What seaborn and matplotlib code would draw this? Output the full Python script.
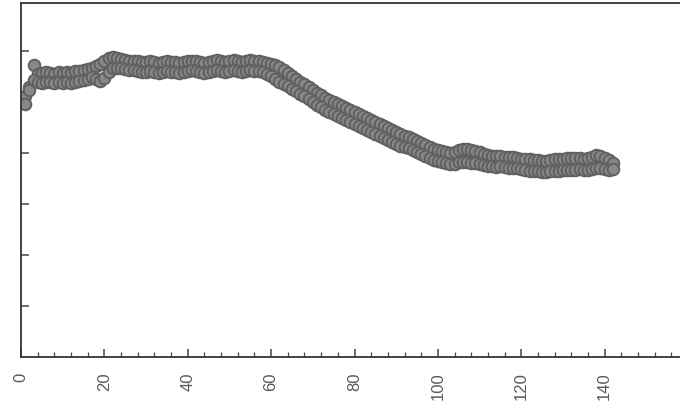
import numpy as np
import pandas as pd
import seaborn as sns
import matplotlib.pyplot as plt

# index (x) and the upper / lower edges of the dotted band
x_vals = list(range(1, 143))

y_upper = [
    5.12, 5.30, 5.73, 5.55, 5.56, 5.58, 5.57, 5.55, 5.58, 5.57,
    5.59, 5.57, 5.60, 5.61, 5.63, 5.64, 5.67, 5.70, 5.74, 5.80,
    5.86, 5.88, 5.86, 5.84, 5.82, 5.80, 5.81, 5.80, 5.78, 5.79,
    5.80, 5.78, 5.76, 5.78, 5.80, 5.78, 5.79, 5.77, 5.78, 5.80,
    5.81, 5.80, 5.78, 5.76, 5.78, 5.80, 5.82, 5.80, 5.78, 5.80,
    5.82, 5.80, 5.78, 5.80, 5.82, 5.80, 5.80, 5.78, 5.76, 5.74,
    5.72, 5.68, 5.62, 5.56, 5.50, 5.46, 5.40, 5.36, 5.30, 5.24,
    5.18, 5.14, 5.08, 5.04, 5.00, 4.96, 4.92, 4.88, 4.85, 4.81,
    4.77, 4.73, 4.69, 4.65, 4.61, 4.57, 4.53, 4.49, 4.45, 4.41,
    4.37, 4.33, 4.31, 4.27, 4.23, 4.19, 4.15, 4.11, 4.07, 4.05,
    4.03, 4.01, 4.00, 4.02, 4.06, 4.08, 4.08, 4.06, 4.03, 4.01,
    3.99, 3.97, 3.95, 3.95, 3.94, 3.93, 3.93, 3.92, 3.91, 3.89,
    3.88, 3.88, 3.87, 3.86, 3.85, 3.85, 3.87, 3.88, 3.88, 3.89,
    3.90, 3.90, 3.91, 3.90, 3.89, 3.91, 3.93, 3.96, 3.94, 3.90,
    3.86, 3.80,
]

y_lower = [
    4.96, 5.24, 5.43, 5.40, 5.38, 5.39, 5.40, 5.37, 5.40, 5.38,
    5.39, 5.37, 5.40, 5.41, 5.43, 5.45, 5.49, 5.45, 5.42, 5.47,
    5.58, 5.66, 5.66, 5.66, 5.64, 5.62, 5.62, 5.61, 5.59, 5.58,
    5.60, 5.59, 5.57, 5.58, 5.60, 5.59, 5.58, 5.56, 5.58, 5.60,
    5.62, 5.60, 5.59, 5.57, 5.58, 5.60, 5.62, 5.61, 5.59, 5.60,
    5.62, 5.60, 5.58, 5.60, 5.62, 5.61, 5.60, 5.58, 5.55, 5.50,
    5.45, 5.40, 5.36, 5.32, 5.26, 5.22, 5.15, 5.12, 5.06, 5.00,
    4.94, 4.90, 4.84, 4.80, 4.76, 4.72, 4.68, 4.64, 4.61, 4.57,
    4.53, 4.49, 4.45, 4.41, 4.37, 4.33, 4.29, 4.25, 4.21, 4.18,
    4.14, 4.11, 4.09, 4.06, 4.02, 3.98, 3.94, 3.90, 3.86, 3.84,
    3.82, 3.80, 3.78, 3.79, 3.82, 3.83, 3.82, 3.81, 3.80, 3.79,
    3.77, 3.75, 3.74, 3.73, 3.74, 3.72, 3.71, 3.70, 3.70, 3.68,
    3.66, 3.65, 3.64, 3.64, 3.62, 3.62, 3.64, 3.64, 3.65, 3.66,
    3.66, 3.67, 3.67, 3.68, 3.66, 3.67, 3.69, 3.71, 3.71, 3.68,
    3.66, 3.68,
]

x_major = [0, 20, 40, 60, 80, 100, 120, 140, 160]
x_minor = list(range(0, 161, 4))
y_major = [1, 2, 3, 4, 5, 6]

df = pd.DataFrame({
    "x": x_vals + x_vals,
    "y": y_upper + y_lower,
})

sns.set_style("white")
plt.rcParams["font.family"] = ["Liberation Sans", "DejaVu Sans"]

fig = plt.figure(figsize=(6.8, 4.15), dpi=100)
ax = fig.add_axes([21 / 680, 58 / 415, 667 / 680, 354 / 415])

sns.scatterplot(data=df, x="x", y="y", ax=ax, marker="o", s=70,
                facecolor="#878787", edgecolor="#606060", linewidth=1.4,
                legend=False)

ax.set_xlim(0, 160)
ax.set_ylim(0, 354 / 51)
ax.set_xlabel("")
ax.set_ylabel("")

ax.set_xticks(x_major)
ax.set_xticks(x_minor, minor=True)
ax.set_xticklabels([str(v) for v in x_major], rotation=90, fontsize=12,
                   color="#5a5a5a")
ax.set_yticks(y_major)
ax.set_yticklabels([])

ax.tick_params(axis="both", which="both", bottom=True, left=True,
               direction="in", color="#444444")
ax.tick_params(axis="both", which="major", length=6, width=1.1, pad=11)
ax.tick_params(axis="x", which="minor", length=3.5, width=0.9)

for side in ["left", "bottom", "top", "right"]:
    ax.spines[side].set_color("#333333")
    ax.spines[side].set_linewidth(1.3)

fig.savefig("out.png", dpi=100)
